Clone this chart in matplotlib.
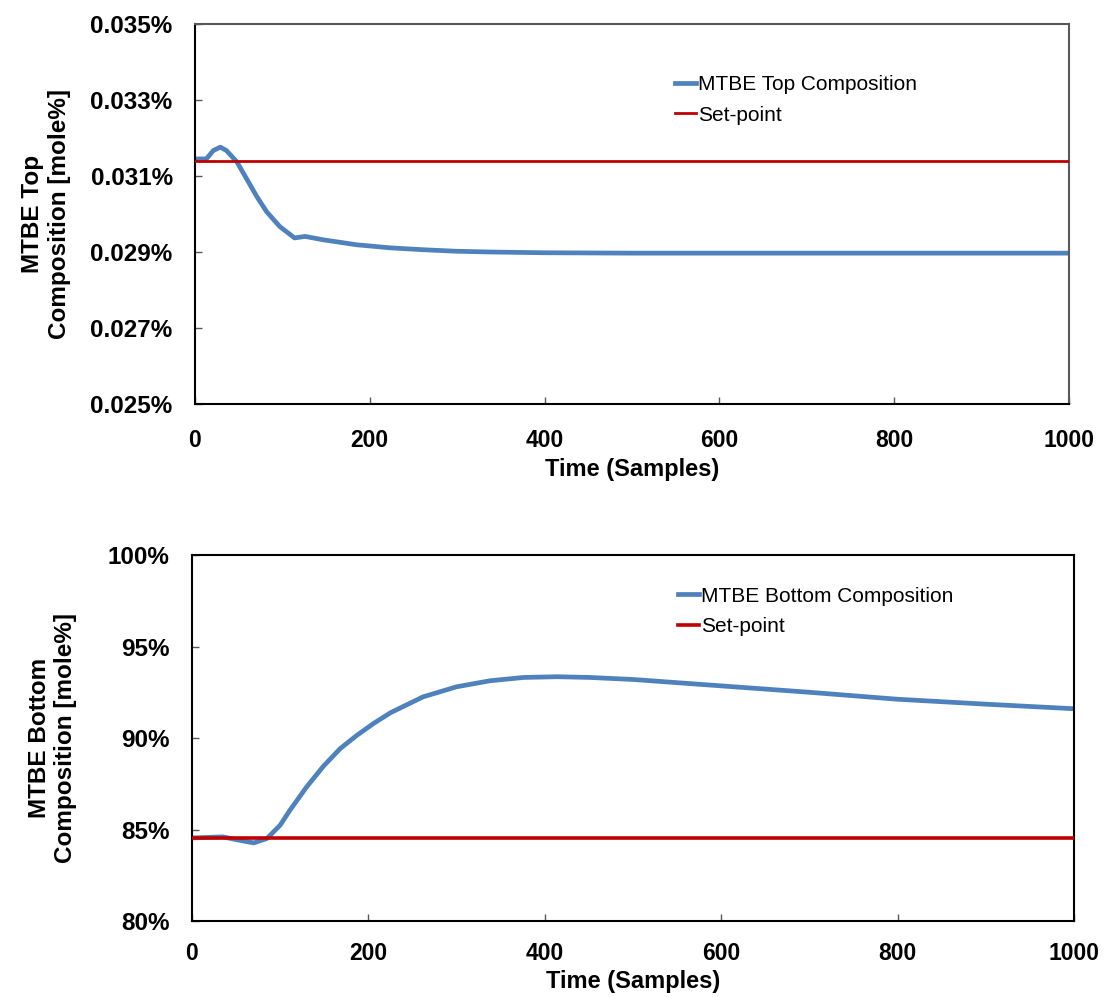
import numpy as np
import matplotlib
matplotlib.use("Agg")
import matplotlib.pyplot as plt
from matplotlib.ticker import FuncFormatter

plt.rcParams['font.family'] = ['Liberation Sans', 'DejaVu Sans']

# top column: MTBE top composition (mole %)
top_t = [0, 13, 21, 29, 36, 48, 59, 71, 82, 97, 114, 126, 147, 185, 223, 261, 299,
         338, 400, 500, 600, 700, 800, 900, 1000]
top_x = [0.03145, 0.03145, 0.03167, 0.03176, 0.03167, 0.03137, 0.03093, 0.03045,
         0.03006, 0.02967, 0.02937, 0.02941, 0.02932, 0.02919, 0.02911, 0.02906,
         0.02902, 0.02900, 0.02898, 0.02897, 0.02897, 0.02897, 0.02897, 0.02897, 0.02897]
top_sp = 0.03140

# bottom column: MTBE bottom composition (mole %)
bot_t = [0, 35, 50, 70, 85, 100, 111, 130, 149, 168, 187, 206, 225, 262, 300, 338,
         376, 414, 451, 500, 600, 700, 800, 900, 1000]
bot_x = [84.54, 84.60, 84.45, 84.27, 84.51, 85.24, 86.05, 87.33, 88.46, 89.42, 90.15,
         90.80, 91.38, 92.25, 92.80, 93.13, 93.31, 93.35, 93.31, 93.20, 92.85, 92.50,
         92.12, 91.85, 91.60]
bot_sp = 84.51

blue = '#4F81BD'
red = '#C00000'

fig = plt.figure(figsize=(11.04, 9.97), dpi=100)
ax1 = fig.add_axes([0.1766, 0.5948, 0.7917, 0.3811])
ax2 = fig.add_axes([0.1739, 0.0762, 0.7989, 0.3671])

ax1.plot(top_t, top_x, color=blue, lw=3.4, label='MTBE Top Composition', zorder=2)
ax1.plot([0, 1000], [top_sp, top_sp], color=red, lw=2, label='Set-point', zorder=3)
ax1.set_ylim(0.025, 0.035)
ax1.set_yticks([0.025, 0.027, 0.029, 0.031, 0.033, 0.035])
ax1.yaxis.set_major_formatter(FuncFormatter(lambda v, p: '{:.3f}%'.format(v)))
ax1.set_ylabel('MTBE Top\nComposition [mole%]', fontsize=17.5, fontweight='bold', labelpad=14)

ax2.plot(bot_t, bot_x, color=blue, lw=3.4, label='MTBE Bottom Composition', zorder=2)
ax2.plot([0, 1000], [bot_sp, bot_sp], color=red, lw=2.6, label='Set-point', zorder=3)
ax2.set_ylim(80, 100)
ax2.set_yticks([80, 85, 90, 95, 100])
ax2.yaxis.set_major_formatter(FuncFormatter(lambda v, p: '{:.0f}%'.format(v)))
ax2.set_ylabel('MTBE Bottom\nComposition [mole%]', fontsize=17.5, fontweight='bold', labelpad=22)

legend_pos = {ax1: (0.528, 0.915), ax2: (0.53, 0.965)}
xpad = {ax1: 18, ax2: 15}
for ax in (ax1, ax2):
    ax.set_xlim(0, 1000)
    ax.set_xticks([0, 200, 400, 600, 800, 1000])
    ax.set_xlabel('Time (Samples)', fontsize=17, fontweight='bold', labelpad=4)
    ax.tick_params(direction='in', length=5, width=1, color='#595959')
    ax.tick_params(axis='x', pad=xpad[ax], labelsize=16.5)
    ax.tick_params(axis='y', pad=16, labelsize=17.5)
    for lab in ax.get_xticklabels() + ax.get_yticklabels():
        lab.set_fontweight('bold')
    for s in ax.spines.values():
        s.set_linewidth(1.5)
    ax.legend(loc='upper left', bbox_to_anchor=legend_pos[ax], frameon=False, fontsize=15,
              handlelength=1.0, handletextpad=0.08, labelspacing=0.55)

ax1.spines['top'].set_color('#595959')
ax1.spines['right'].set_color('#595959')

fig.savefig('out.png', dpi=100)
